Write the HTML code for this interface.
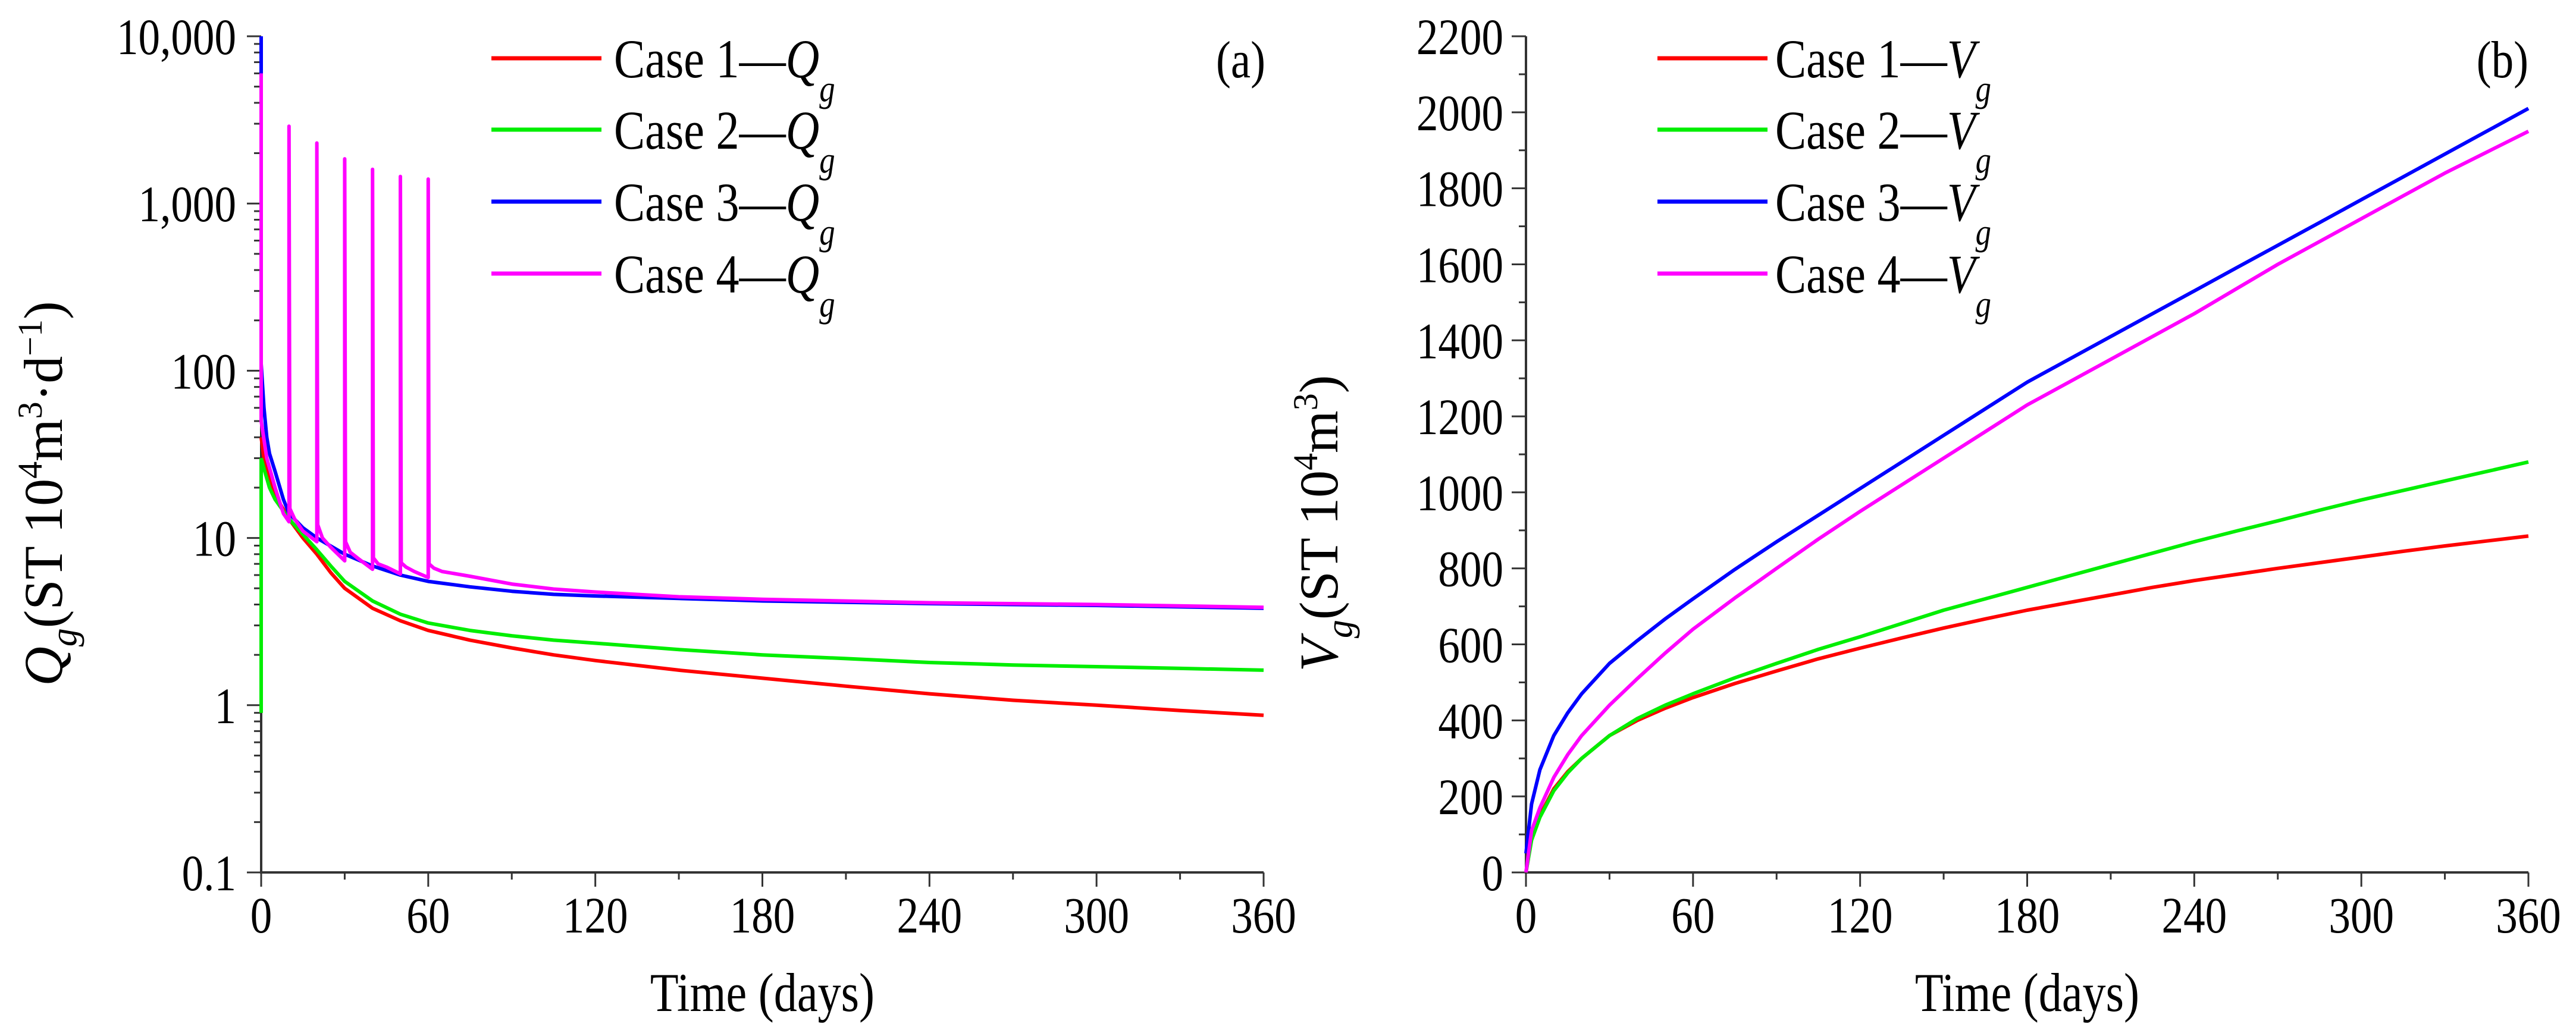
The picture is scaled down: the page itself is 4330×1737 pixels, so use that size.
<!DOCTYPE html>
<html><head><meta charset="utf-8">
<style>
html,body{margin:0;padding:0;background:#fff;}
svg{display:block;}
text{font-family:"Liberation Serif",serif;fill:#000;}
</style></head>
<body>
<svg id="chart" width="4330" height="1737" viewBox="0 0 4330 1737" xmlns="http://www.w3.org/2000/svg">
<g id="pa"></g>
<g id="pb"></g>
</svg>
<script>
// ---- Panel (a) data: gas rate Qg (log scale) ----
const qT1 = [0, 1, 3, 5, 10, 15, 20, 25, 30, 40, 50, 60, 75, 90, 105, 120, 150, 180, 210, 240, 270, 300, 330, 360];
const qCase1 = [40, 30, 22, 18, 13, 10, 8, 6.2, 5, 3.8, 3.2, 2.8, 2.45, 2.2, 2.0, 1.85, 1.62, 1.45, 1.3, 1.17, 1.07, 1.0, 0.93, 0.87];
const qCase2 = [30, 26, 20, 17, 13, 10.5, 8.5, 6.8, 5.5, 4.2, 3.5, 3.1, 2.8, 2.6, 2.45, 2.35, 2.15, 2.0, 1.9, 1.8, 1.74, 1.7, 1.66, 1.62];
const qT3 = [0, 0, 1, 2, 3, 5, 8, 10, 15, 20, 30, 40, 50, 60, 75, 90, 105, 120, 150, 180, 240, 300, 360];
const qCase3 = [10000, 110, 60, 40, 32, 25, 17, 14, 11.5, 10, 8, 6.8, 6.0, 5.5, 5.1, 4.8, 4.6, 4.5, 4.35, 4.2, 4.05, 3.95, 3.8];
const qT4 = [0, 0, 2, 5, 8, 10, 10, 10.3, 12, 15, 20, 20, 20.3, 22, 25, 30, 30, 30.3, 32, 35, 40, 40, 40.3, 42, 45, 50, 50, 50.3, 52, 55, 60, 60, 60.3, 62, 65, 75, 90, 105, 120, 150, 180, 240, 300, 360];
const qCase4 = [6000, 50, 30, 20, 14, 12.5, 2900, 15, 13, 11, 9.5, 2300, 12, 10, 8.8, 7.3, 1850, 9.5, 8.2, 7.5, 6.5, 1600, 7.6, 7.0, 6.7, 6.1, 1450, 7.1, 6.7, 6.3, 5.8, 1400, 7.0, 6.6, 6.3, 5.9, 5.3, 4.95, 4.75, 4.45, 4.3, 4.1, 4.0, 3.85];
const qCase2Start = [0.9, 30];
const qTicks = [0.1, 1, 10, 100, 1000, 10000];
const qTickLabels = ["0.1", "1", "10", "100", "1,000", "10,000"];
// ---- Panel (b) data: cumulative Vg ----
const vT = [0, 2, 5, 10, 15, 20, 30, 40, 50, 60, 75, 90, 105, 120, 135, 150, 165, 180, 195, 210, 225, 240, 255, 270, 285, 300, 315, 330, 345, 360];
const vCase1 = [0, 90, 150, 220, 265, 300, 360, 400, 432, 460, 497, 530, 562, 590, 617, 643, 667, 690, 710, 730, 750, 768, 784, 800, 815, 830, 845, 859, 872, 885];
const vCase2 = [0, 85, 145, 215, 262, 300, 360, 405, 440, 470, 512, 550, 587, 620, 655, 690, 720, 750, 780, 810, 840, 870, 898, 925, 953, 980, 1005, 1030, 1055, 1080];
const vCase3 = [50, 180, 270, 360, 420, 470, 550, 610, 667, 720, 797, 870, 940, 1010, 1080, 1150, 1220, 1290, 1350, 1410, 1470, 1530, 1590, 1650, 1710, 1770, 1830, 1890, 1950, 2010];
const vCase4 = [0, 110, 170, 250, 310, 360, 440, 510, 577, 640, 722, 800, 877, 950, 1020, 1090, 1160, 1230, 1290, 1350, 1410, 1470, 1535, 1600, 1660, 1720, 1780, 1840, 1895, 1950];
const vTicks = [0, 200, 400, 600, 800, 1000, 1200, 1400, 1600, 1800, 2000, 2200];
const xTicks = [0, 60, 120, 180, 240, 300, 360];
const colors = ["#ff0000", "#00ee00", "#0000ff", "#ff00ff"];

const NS = "http://www.w3.org/2000/svg";
function mk(parent, tag, attrs) {
  const e = document.createElementNS(NS, tag);
  for (const k in attrs) e.setAttribute(k, attrs[k]);
  parent.appendChild(e);
  return e;
}
function txt(parent, x, y, s, size, anchor, name) {
  const t = mk(parent, "text", {"font-size": size, "text-anchor": anchor || "start", transform: "translate(" + x + "," + y + ") scale(0.85,1)"});
  t.textContent = s;
  
  
  return t;
}
const Y0 = 61, Y1 = 1467;

function axes(g, x0, x1, xs, prefix) {
  const ax = mk(g, "path", {d: "M" + x0 + " " + Y0 + " V" + Y1 + " H" + x1, stroke: "#333", "stroke-width": 4, fill: "none"});
  
  
  for (let d = 0; d <= 360; d += 30) {
    const big = d % 60 === 0;
    const tk = mk(g, "line", {x1: xs(d), x2: xs(d), y1: Y1, y2: Y1 + (big ? 24 : 12), stroke: "#333", "stroke-width": 3});
    
    
  }
  xTicks.forEach(v => txt(g, xs(v), 1568, String(v), 86, "middle", "x-tick-label"));
  txt(g, (x0 + x1) / 2, 1700, "Time (days)", 92, "middle", "x-axis-title");
}
function line(g, xsArr, ysArr, xs, ys, color, name) {
  let d = "";
  for (let i = 0; i < xsArr.length; i++) d += (i ? "L" : "M") + xs(xsArr[i]).toFixed(1) + " " + ys(ysArr[i]).toFixed(1);
  const p = mk(g, "path", {d: d, stroke: color, "stroke-width": 6, fill: "none", "stroke-linejoin": "round"});
  
  
}
function legend(g, lx, tx, sym) {
  const ys = [98, 218, 339, 460];
  for (let i = 0; i < 4; i++) {
    const le = mk(g, "g", {});
    
    
    mk(le, "line", {x1: lx, x2: lx + 185, y1: ys[i], y2: ys[i], stroke: colors[i], "stroke-width": 7});
    const t = mk(le, "text", {"font-size": 92, transform: "translate(" + tx + "," + (ys[i] + 32) + ") scale(0.85,1)"});
    t.innerHTML = 'Case ' + (i + 1) + '\u2014<tspan font-style="italic">' + sym + '</tspan><tspan font-style="italic" font-size="62" dy="40">g</tspan>';
  }
}

// Panel a
(function () {
  const g = document.getElementById("pa");
  const x0 = 439, x1 = 2124;
  const xs = d => x0 + (x1 - x0) * d / 360;
  const ys = v => Y1 - (Math.log10(v) + 1) / 5 * (Y1 - Y0);
  axes(g, x0, x1, xs, "panel-a");
  for (let dec = -1; dec < 4; dec++) for (let m = 2; m <= 9; m++) {
    const y = ys(m * Math.pow(10, dec));
    const tk = mk(g, "line", {x1: x0 - 12, x2: x0, y1: y, y2: y, stroke: "#333", "stroke-width": 3});
    
    
  }
  qTicks.forEach((v, i) => {
    const tk = mk(g, "line", {x1: x0 - 24, x2: x0, y1: ys(v), y2: ys(v), stroke: "#333", "stroke-width": 3});
    
    
    txt(g, 397, ys(v) + 30, qTickLabels[i], 86, "end", "y-tick-label");
  });
  line(g, [0, 0], qCase2Start, xs, ys, colors[1], "series-case2-start");
  line(g, qT1, qCase1, xs, ys, colors[0], "series-case1-qg");
  line(g, qT1, qCase2, xs, ys, colors[1], "series-case2-qg");
  line(g, qT3, qCase3, xs, ys, colors[2], "series-case3-qg");
  line(g, qT4, qCase4, xs, ys, colors[3], "series-case4-qg");
  legend(g, 826, 1032, "Q");
  txt(g, 2127, 130, "(a)", 88, "end", "panel-label-a");
  const t = mk(g, "text", {"font-size": 92, "text-anchor": "middle", transform: "translate(104,830) rotate(-90)"});
  t.innerHTML = '<tspan font-style="italic">Q</tspan><tspan font-style="italic" font-size="62" dy="24">g</tspan><tspan dy="-24">(ST 10</tspan><tspan font-size="58" dy="-34">4</tspan><tspan dy="34">m</tspan><tspan font-size="58" dy="-34">3</tspan><tspan dy="34">·d</tspan><tspan font-size="58" dy="-34">−1</tspan><tspan dy="34">)</tspan>';
  
  
})();

// Panel b
(function () {
  const g = document.getElementById("pb");
  const x0 = 2565, x1 = 4250;
  const xs = d => x0 + (x1 - x0) * d / 360;
  const ys = v => Y1 - v / 2200 * (Y1 - Y0);
  axes(g, x0, x1, xs, "panel-b");
  for (let v = 100; v < 2200; v += 200) {
    const tk = mk(g, "line", {x1: x0 - 12, x2: x0, y1: ys(v), y2: ys(v), stroke: "#333", "stroke-width": 3});
    
    
  }
  vTicks.forEach(v => {
    const tk = mk(g, "line", {x1: x0 - 24, x2: x0, y1: ys(v), y2: ys(v), stroke: "#333", "stroke-width": 3});
    
    
    txt(g, 2527, ys(v) + 30, String(v), 86, "end", "y-tick-label");
  });
  line(g, vT, vCase1, xs, ys, colors[0], "series-case1-vg");
  line(g, vT, vCase2, xs, ys, colors[1], "series-case2-vg");
  line(g, vT, vCase3, xs, ys, colors[2], "series-case3-vg");
  line(g, vT, vCase4, xs, ys, colors[3], "series-case4-vg");
  legend(g, 2786, 2984, "V");
  txt(g, 4250, 130, "(b)", 88, "end", "panel-label-b");
  const t = mk(g, "text", {"font-size": 92, "text-anchor": "middle", transform: "translate(2248,880) rotate(-90)"});
  t.innerHTML = '<tspan font-style="italic">V</tspan><tspan font-style="italic" font-size="62" dy="24">g</tspan><tspan dy="-24">(ST 10</tspan><tspan font-size="58" dy="-34">4</tspan><tspan dy="34">m</tspan><tspan font-size="58" dy="-34">3</tspan><tspan dy="34">)</tspan>';
  
  
})();
</script>
</body></html>
